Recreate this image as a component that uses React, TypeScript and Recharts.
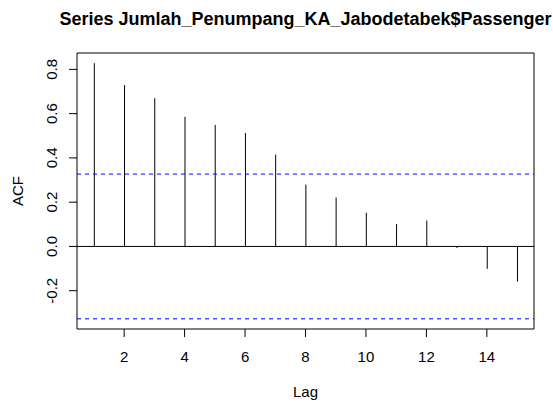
import React from 'react';
import { ComposedChart, Bar, XAxis, YAxis, ReferenceLine, ReferenceArea, Label } from 'recharts';

// ACF values, lag 1..15
const lags = [1, 2, 3, 4, 5, 6, 7, 8, 9, 10, 11, 12, 13, 14, 15];
const acfValues = [0.828, 0.729, 0.67, 0.586, 0.549, 0.512, 0.415, 0.279, 0.221, 0.152, 0.101, 0.117, -0.007, -0.101, -0.159];
const confLimit = 0.327;
const xTicks = [2, 4, 6, 8, 10, 12, 14];
const yTicks = [-0.2, 0, 0.2, 0.4, 0.6, 0.8];
const title = 'Series Jumlah_Penumpang_KA_Jabodetabek$Passenger';

// R pads the data range by 4% on each side
const xDomain = [0.44, 15.56];
const yDomain = [-0.373, 0.874];

const data = lags.map((lag, i) => ({ lag, acf: acfValues[i] }));

const FONT = '"Liberation Sans", Arial, sans-serif';

// one vertical spike from 0 to the value
const Spike = (props: any) => {
  const { x, y, width, height } = props;
  const cx = x + width / 2;
  return <line x1={cx} x2={cx} y1={y} y2={y + height} stroke="#000" strokeWidth={1} />;
};

const YTick = (props: any) => {
  const { x, y, payload } = props;
  return (
    <text x={x} y={y} transform={`rotate(-90 ${x} ${y})`} textAnchor="middle" fontSize={15} fill="#000">
      {payload.value.toFixed(1)}
    </text>
  );
};

export default function App() {
  return (
    <div style={{ position: 'absolute', left: 0, top: 0, width: 553, height: 403, background: '#fff', fontFamily: FONT }}>
      <ComposedChart width={553} height={403} data={data} margin={{ top: 53, right: 19, bottom: 0, left: 0 }}>
        <XAxis
          dataKey="lag"
          type="number"
          domain={xDomain}
          ticks={xTicks}
          allowDataOverflow
          height={74}
          axisLine={false}
          tickLine={{ stroke: '#000' }}
          tickSize={8}
          tickMargin={14}
          tick={{ fontSize: 15, fill: '#000' }}
        >
          <Label value="Lag" position="insideBottom" offset={6} fontSize={15} fill="#000" />
        </XAxis>
        <YAxis
          type="number"
          domain={yDomain}
          ticks={yTicks}
          allowDataOverflow
          width={77}
          axisLine={false}
          tickLine={{ stroke: '#000' }}
          tickSize={8}
          tickMargin={12}
          tick={<YTick />}
        >
          <Label
            content={(p: any) => {
              const vb = p.viewBox;
              const cx = 22.5;
              const cy = vb.y + vb.height / 2;
              return (
                <text x={cx} y={cy} transform={`rotate(-90 ${cx} ${cy})`} textAnchor="middle" fontSize={15} fill="#000">
                  ACF
                </text>
              );
            }}
          />
        </YAxis>
        <ReferenceArea
          x1={xDomain[0]}
          x2={xDomain[1]}
          y1={yDomain[0]}
          y2={yDomain[1]}
          fill="none"
          fillOpacity={0}
          stroke="#000"
          strokeWidth={1}
          strokeOpacity={1}
          ifOverflow="visible"
        >
          <Label value={title} position="top" offset={28} fontSize={18} fontWeight="bold" fill="#000" />
        </ReferenceArea>
        <ReferenceLine y={0} stroke="#000" strokeWidth={1} />
        <ReferenceLine y={confLimit} stroke="#0000ff" strokeDasharray="4 4" strokeWidth={1} />
        <ReferenceLine y={-confLimit} stroke="#0000ff" strokeDasharray="4 4" strokeWidth={1} />
        <Bar dataKey="acf" barSize={1} shape={<Spike />} isAnimationActive={false} />
      </ComposedChart>
    </div>
  );
}
